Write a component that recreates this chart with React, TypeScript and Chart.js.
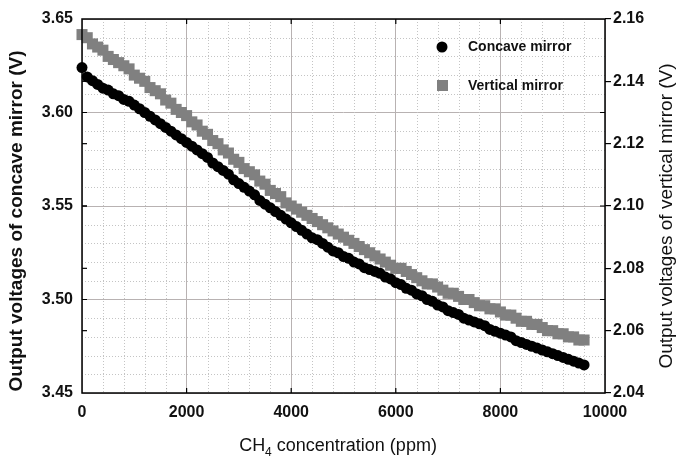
import React, { useEffect, useRef } from "react";
import { Chart, registerables } from "chart.js";
Chart.register(...registerables);

const concentrationPpm = [
  0, 100, 200, 300, 400, 500, 600, 700, 800, 900,
  1000, 1100, 1200, 1300, 1400, 1500, 1600, 1700, 1800, 1900,
  2000, 2100, 2200, 2300, 2400, 2500, 2600, 2700, 2800, 2900,
  3000, 3100, 3200, 3300, 3400, 3500, 3600, 3700, 3800, 3900,
  4000, 4100, 4200, 4300, 4400, 4500, 4600, 4700, 4800, 4900,
  5000, 5100, 5200, 5300, 5400, 5500, 5600, 5700, 5800, 5900,
  6000, 6100, 6200, 6300, 6400, 6500, 6600, 6700, 6800, 6900,
  7000, 7100, 7200, 7300, 7400, 7500, 7600, 7700, 7800, 7900,
  8000, 8100, 8200, 8300, 8400, 8500, 8600, 8700, 8800, 8900,
  9000, 9100, 9200, 9300, 9400, 9500, 9600,
];

const concaveMirrorV = [
  3.624, 3.619, 3.617, 3.615, 3.613, 3.612, 3.610, 3.609, 3.607, 3.606,
  3.604, 3.602, 3.600, 3.598, 3.596, 3.594, 3.592, 3.590, 3.588, 3.586,
  3.584, 3.582, 3.580, 3.578, 3.576, 3.573, 3.571, 3.569, 3.567, 3.564,
  3.562, 3.560, 3.558, 3.556, 3.553, 3.551, 3.549, 3.547, 3.545, 3.543,
  3.541, 3.539, 3.537, 3.535, 3.533, 3.532, 3.530, 3.528, 3.526, 3.525,
  3.523, 3.522, 3.520, 3.519, 3.517, 3.516, 3.515, 3.514, 3.512, 3.511,
  3.509, 3.508, 3.506, 3.505, 3.503, 3.502, 3.500, 3.499, 3.497, 3.496,
  3.494, 3.493, 3.492, 3.490, 3.489, 3.488, 3.487, 3.486, 3.484, 3.483,
  3.482, 3.481, 3.480, 3.478, 3.477, 3.476, 3.475, 3.474, 3.473, 3.472,
  3.471, 3.470, 3.469, 3.468, 3.467, 3.466, 3.465,
];

const verticalMirrorV = [
  2.155, 2.154, 2.152, 2.151, 2.150, 2.148, 2.147, 2.146, 2.145, 2.144,
  2.142, 2.141, 2.140, 2.138, 2.137, 2.136, 2.134, 2.133, 2.131, 2.130,
  2.129, 2.127, 2.126, 2.124, 2.123, 2.121, 2.120, 2.118, 2.117, 2.115,
  2.114, 2.112, 2.111, 2.110, 2.108, 2.107, 2.105, 2.104, 2.103, 2.101,
  2.100, 2.099, 2.098, 2.097, 2.096, 2.095, 2.094, 2.093, 2.092, 2.091,
  2.090, 2.089, 2.088, 2.087, 2.086, 2.085, 2.084, 2.083, 2.082, 2.081,
  2.080, 2.080, 2.079, 2.078, 2.077, 2.076, 2.075, 2.075, 2.074, 2.073,
  2.072, 2.072, 2.071, 2.070, 2.070, 2.069, 2.068, 2.068, 2.067, 2.067,
  2.066, 2.065, 2.065, 2.064, 2.063, 2.063, 2.062, 2.062, 2.061, 2.060,
  2.060, 2.059, 2.059, 2.058, 2.058, 2.057, 2.057,
];

const xTickValues = [0, 2000, 4000, 6000, 8000, 10000];
const leftTickValues = [3.45, 3.5, 3.55, 3.6, 3.65];
const rightTickValues = [2.04, 2.06, 2.08, 2.1, 2.12, 2.14, 2.16];

const seriesNames = ["Concave mirror", "Vertical mirror"];
const leftAxisTitle = "Output voltages of concave mirror (V)";
const rightAxisTitle = "Output voltages of vertical mirror (V)";
const xTitleMain = "CH";
const xTitleSub = "4";
const xTitleRest = " concentration (ppm)";

const FONT = '"Liberation Sans", Arial, sans-serif';

const extrasPlugin = {
  id: "extras",
  beforeDatasetsDraw(chart: any) {
    const { ctx, chartArea: a, scales } = chart;
    const x = scales.x;
    const y = scales.y;
    ctx.save();
    ctx.strokeStyle = "#c4c4c4";
    ctx.lineWidth = 1;
    ctx.setLineDash([1, 2]);
    for (let v = 400; v < 10000; v += 400) {
      if (v % 2000 === 0) continue;
      const px = Math.round(x.getPixelForValue(v)) + 0.5;
      ctx.beginPath();
      ctx.moveTo(px, a.top);
      ctx.lineTo(px, a.bottom);
      ctx.stroke();
    }
    for (let i = 1; i < 20; i++) {
      if (i % 5 === 0) continue;
      const v = 3.45 + i * 0.01;
      const py = Math.round(y.getPixelForValue(v)) + 0.5;
      ctx.beginPath();
      ctx.moveTo(a.left, py);
      ctx.lineTo(a.right, py);
      ctx.stroke();
    }
    ctx.restore();
  },
  afterDatasetsDraw(chart: any) {
    const { ctx, chartArea: a, scales } = chart;
    const x = scales.x;
    const y = scales.y;
    const y2 = scales.y2;
    ctx.save();
    ctx.strokeStyle = "#000";
    ctx.lineWidth = 1.2;
    ctx.setLineDash([]);
    xTickValues.slice(1, -1).forEach((v) => {
      const px = x.getPixelForValue(v);
      ctx.beginPath();
      ctx.moveTo(px, a.top);
      ctx.lineTo(px, a.top + 5);
      ctx.moveTo(px, a.bottom);
      ctx.lineTo(px, a.bottom - 5);
      ctx.stroke();
    });
    rightTickValues.slice(1, -1).forEach((v) => {
      const py = y2.getPixelForValue(v);
      ctx.beginPath();
      ctx.moveTo(a.left, py);
      ctx.lineTo(a.left + 5, py);
      ctx.stroke();
    });
    leftTickValues.slice(1, -1).forEach((v) => {
      const py = y.getPixelForValue(v);
      ctx.beginPath();
      ctx.moveTo(a.left, py);
      ctx.lineTo(a.left + 5, py);
      ctx.moveTo(a.right, py);
      ctx.lineTo(a.right - 5, py);
      ctx.stroke();
    });
    ctx.lineWidth = 1.5;
    ctx.strokeRect(a.left, a.top, a.right - a.left, a.bottom - a.top);

    // legend
    ctx.fillStyle = "#000";
    ctx.beginPath();
    ctx.arc(442, 47, 5.5, 0, Math.PI * 2);
    ctx.fill();
    ctx.fillStyle = "#808080";
    ctx.fillRect(437, 80, 11, 11);
    ctx.fillStyle = "#111";
    ctx.font = `bold 14px ${FONT}`;
    ctx.textBaseline = "middle";
    ctx.textAlign = "left";
    ctx.fillText(seriesNames[0], 468, 47);
    ctx.fillText(seriesNames[1], 468, 86);

    // y titles
    ctx.textAlign = "center";
    ctx.textBaseline = "middle";
    ctx.save();
    ctx.translate(17, 221);
    ctx.rotate(-Math.PI / 2);
    ctx.font = `bold 19px ${FONT}`;
    ctx.fillText(leftAxisTitle, 0, 0);
    ctx.restore();
    ctx.save();
    ctx.translate(667, 216);
    ctx.rotate(-Math.PI / 2);
    ctx.font = `19px ${FONT}`;
    ctx.fillText(rightAxisTitle, 0, 0);
    ctx.restore();

    // x title with subscript
    ctx.textAlign = "left";
    ctx.font = `18px ${FONT}`;
    const mainW = ctx.measureText(xTitleMain).width;
    ctx.font = `12px ${FONT}`;
    const subW = ctx.measureText(xTitleSub).width;
    ctx.font = `18px ${FONT}`;
    const restW = ctx.measureText(xTitleRest).width;
    const total = mainW + subW + restW;
    const cx = 338;
    let sx = cx - total / 2;
    const by = 451;
    ctx.textBaseline = "alphabetic";
    ctx.fillText(xTitleMain, sx, by);
    sx += mainW;
    ctx.font = `12px ${FONT}`;
    ctx.fillText(xTitleSub, sx, by + 5);
    sx += subW;
    ctx.font = `18px ${FONT}`;
    ctx.fillText(xTitleRest, sx, by);
    ctx.restore();
  },
};

export default function App() {
  const ref = useRef<HTMLCanvasElement | null>(null);
  useEffect(() => {
    document.body.style.margin = "0";
    const canvas = ref.current;
    if (!canvas) return;
    const chart = new Chart(canvas, {
      type: "scatter",
      data: {
        datasets: [
          {
            label: seriesNames[0],
            data: concentrationPpm.map((c, i) => ({ x: c, y: concaveMirrorV[i] })),
            yAxisID: "y",
            pointStyle: "circle",
            pointRadius: 5.5,
            backgroundColor: "#000",
            borderColor: "#000",
            borderWidth: 0,
            showLine: false,
            clip: false,
          },
          {
            label: seriesNames[1],
            data: concentrationPpm.map((c, i) => ({ x: c, y: verticalMirrorV[i] })),
            yAxisID: "y2",
            pointStyle: "rect",
            pointRadius: 7.8,
            backgroundColor: "#808080",
            borderColor: "#808080",
            borderWidth: 0,
            showLine: false,
            clip: false,
          },
        ],
      },
      plugins: [extrasPlugin],
      options: {
        animation: false,
        responsive: false,
        maintainAspectRatio: false,
        layout: { padding: { top: 19, left: 0, right: 0, bottom: 0 } },
        plugins: { legend: { display: false }, tooltip: { enabled: false } },
        scales: {
          x: {
            type: "linear",
            min: 0,
            max: 10000,
            afterFit: (s: any) => { s.height = 65; },
            afterBuildTicks: (s: any) => {
              s.ticks = xTickValues.map((v) => ({ value: v }));
            },
            ticks: {
              color: "#111",
              font: { family: FONT, size: 16, weight: "bold" },
              padding: 10,
              maxRotation: 0,
              callback: (v: any) => String(v),
            },
            grid: { color: "#b8b2b2", lineWidth: 1, drawTicks: false },
            border: { display: false },
          },
          y: {
            type: "linear",
            position: "left",
            min: 3.45,
            max: 3.65,
            afterFit: (s: any) => { s.width = 82; },
            afterBuildTicks: (s: any) => {
              s.ticks = leftTickValues.map((v) => ({ value: v }));
            },
            ticks: {
              color: "#111",
              font: { family: FONT, size: 16, weight: "bold" },
              padding: 9,
              callback: (v: any) => Number(v).toFixed(2),
            },
            grid: { color: "#b8b2b2", lineWidth: 1, drawTicks: false },
            border: { display: false },
          },
          y2: {
            type: "linear",
            position: "right",
            min: 2.04,
            max: 2.16,
            afterFit: (s: any) => { s.width = 75; },
            afterBuildTicks: (s: any) => {
              s.ticks = rightTickValues.map((v) => ({ value: v }));
            },
            ticks: {
              color: "#111",
              font: { family: FONT, size: 16, weight: "bold" },
              padding: 2,
              callback: (v: any) => Number(v).toFixed(2),
            },
            grid: { drawOnChartArea: false, drawTicks: true, tickLength: 6, color: "#000", lineWidth: 1.2 },
            border: { display: false },
          },
        },
      },
    });
    return () => chart.destroy();
  }, []);
  return (
    <div style={{ width: 680, height: 458, background: "#fff" }}>
      <canvas ref={ref} width={680} height={458} style={{ display: "block" }} />
    </div>
  );
}
